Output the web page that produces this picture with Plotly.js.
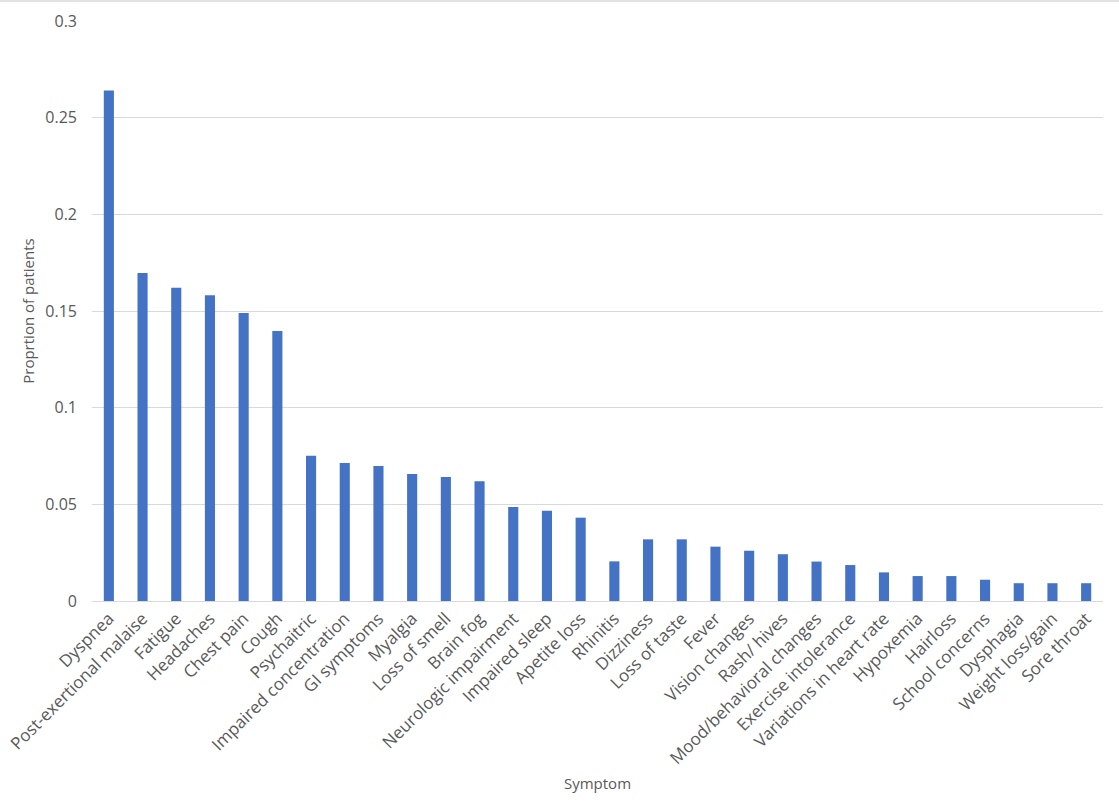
<!DOCTYPE html>
<html>
<head>
<meta charset="utf-8">
<script src="https://cdn.plot.ly/plotly-3.0.1.min.js"></script>
<style>
  html, body { margin: 0; padding: 0; background: #fff; }
  #chart { width: 1119px; height: 802px; box-sizing: border-box;
           border-top: 2px solid #e3e3e3; border-right: 2px solid #e3e3e3; }
</style>
</head>
<body>
<div id="chart"></div>
<script>
'use strict';

const symptoms = [
  'Dyspnea', 'Post-exertional malaise', 'Fatigue', 'Headaches', 'Chest pain',
  'Cough', 'Psychaitric', 'Impaired concentration', 'GI symptoms', 'Myalgia',
  'Loss of smell', 'Brain fog', 'Neurologic impairment', 'Impaired sleep',
  'Apetite loss', 'Rhinitis', 'Dizziness', 'Loss of taste', 'Fever',
  'Vision changes', 'Rash/ hives', 'Mood/behavioral changes',
  'Exercise intolerance', 'Variations in heart rate', 'Hypoxemia', 'Hairloss',
  'School concerns', 'Dysphagia', 'Weight loss/gain', 'Sore throat'
];

const proportions = [
  0.264, 0.1697, 0.162, 0.1582, 0.149,
  0.1396, 0.0751, 0.0714, 0.0698, 0.0657,
  0.0641, 0.0619, 0.0486, 0.0467,
  0.0431, 0.0205, 0.0319, 0.0319, 0.0281,
  0.026, 0.0242, 0.0204,
  0.0186, 0.0148, 0.0129, 0.0129,
  0.011, 0.0092, 0.0092, 0.0092
];

const yTicks = [0, 0.05, 0.1, 0.15, 0.2, 0.25, 0.3];

const FONT = 'Open Sans, Liberation Sans, sans-serif';
const GREY = '#595959';

const data = [{
  x: symptoms,
  y: proportions,
  type: 'bar',
  width: 0.3,
  marker: { color: '#4472c4' },
  hoverinfo: 'x+y'
}];

const layout = {
  width: 1119,
  height: 802,
  margin: { l: 92, r: 16, t: 19, b: 203 },
  paper_bgcolor: '#ffffff',
  plot_bgcolor: '#ffffff',
  showlegend: false,
  font: { family: FONT, size: 14, color: GREY },
  xaxis: {
    type: 'category',
    tickangle: -45,
    tickfont: { family: FONT, size: 17, color: GREY },
    showgrid: false,
    showline: true,
    linecolor: '#d9d9d9',
    linewidth: 1,
    ticks: '',
    title: { text: 'Symptom', font: { family: FONT, size: 15, color: GREY }, standoff: 10 }
  },
  yaxis: {
    range: [0, 0.3],
    tickvals: yTicks,
    ticktext: yTicks.map(String),
    tickfont: { family: FONT, size: 16, color: GREY },
    showgrid: true,
    gridcolor: '#d9d9d9',
    gridwidth: 1,
    zeroline: false,
    showline: false,
    ticks: '',
    ticklabelstandoff: 14,
    title: { text: 'Proprtion of patients', font: { family: FONT, size: 15, color: GREY }, standoff: 7 }
  }
};

Plotly.newPlot('chart', data, layout, { displayModeBar: false, staticPlot: true });
</script>
</body>
</html>
